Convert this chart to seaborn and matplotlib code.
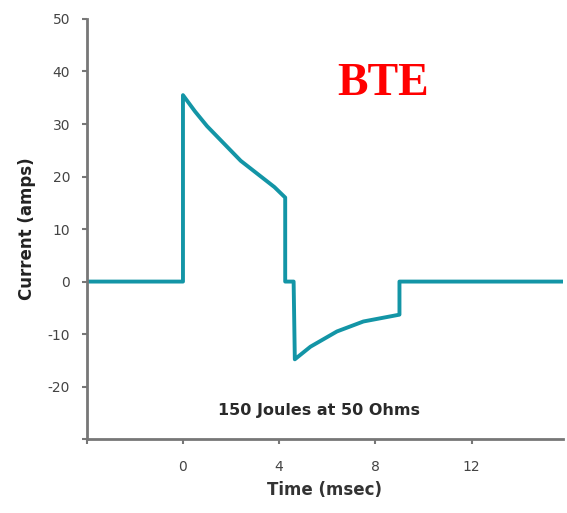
import matplotlib
matplotlib.use("Agg")
import matplotlib.pyplot as plt
import seaborn as sns
import pandas as pd

time_ms = [-4.0, 0.0, 0.0, 0.5, 1.0, 2.4, 3.8, 4.25, 4.25, 4.6, 4.65, 5.3, 6.4, 7.5, 9.0, 9.0, 15.8]
current_a = [0.0, 0.0, 35.5, 32.4, 29.6, 23.0, 18.0, 16.0, 0.0, 0.0, -14.8, -12.4, -9.5, -7.6, -6.3, 0.0, 0.0]

x_ticks = [-4, 0, 4, 8, 12]
x_labels = ["", "0", "4", "8", "12"]
y_ticks = [-30, -20, -10, 0, 10, 20, 30, 40, 50]
y_labels = ["", "-20", "-10", "0", "10", "20", "30", "40", "50"]

df = pd.DataFrame({"t": time_ms, "i": current_a})

sns.set_style("white")
fig = plt.figure(figsize=(5.67, 5.13), dpi=100)
ax = fig.add_axes([0.153, 0.144, 0.84, 0.819])

sns.lineplot(data=df, x="t", y="i", sort=False, estimator=None, ax=ax,
             color="#1395a6", linewidth=2.8)

ax.set_xlim(-4, 15.8)
ax.set_ylim(-30, 50)
ax.set_xticks(x_ticks)
ax.set_xticklabels(x_labels)
ax.set_yticks(y_ticks)
ax.set_yticklabels(y_labels)

for s in ["top", "right"]:
    ax.spines[s].set_visible(False)
for s in ["left", "bottom"]:
    ax.spines[s].set_color("#777777")
    ax.spines[s].set_linewidth(2)

ax.tick_params(axis="both", which="major", bottom=True, left=True, direction="out",
               length=3.5, width=1.5, color="#777777",
               labelsize=10, labelcolor="#444444")
ax.tick_params(axis="x", pad=11.5)
ax.tick_params(axis="y", pad=8.5)

ax.set_xlabel("Time (msec)", fontsize=12, fontweight="bold", color="#333333", labelpad=5)
ax.set_ylabel("Current (amps)", fontsize=12, fontweight="bold", color="#222222", labelpad=8)

ax.text(5.66, -24.5, "150 Joules at 50 Ohms", ha="center", va="center",
        fontsize=11.5, fontweight="bold", color="#2a2a2a")
ax.text(8.32, 37.7, "BTE", ha="center", va="center", fontsize=33, fontweight="bold",
        color="#ff0000", family="Liberation Serif")

fig.savefig("out.png", dpi=100)
